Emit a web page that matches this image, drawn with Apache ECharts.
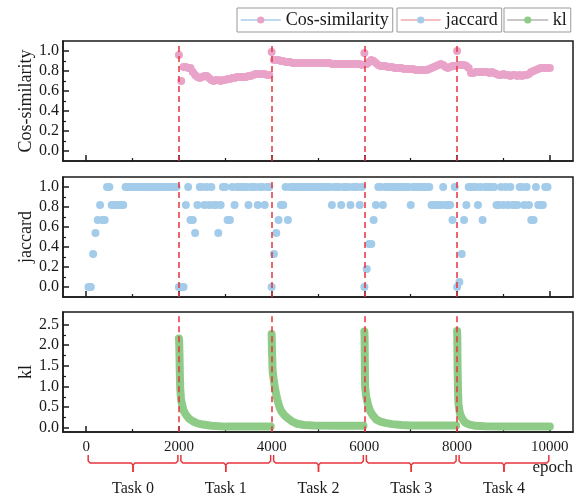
<!DOCTYPE html>
<html><head><meta charset="utf-8">
<script src="https://cdn.jsdelivr.net/npm/echarts@6/dist/echarts.min.js"></script>
<style>html,body{margin:0;padding:0;background:#fff}#c{width:585px;height:499px}</style>
</head><body><div id="c"></div>
<script>
// ---------------- data ----------------
const xTicks = [0, 2000, 4000, 6000, 8000, 10000];
const xMinorTicks = [1000, 3000, 5000, 7000, 9000];
const taskBounds = [0, 2000, 4000, 6000, 8000, 10000];
const taskNames = ['Task 0', 'Task 1', 'Task 2', 'Task 3', 'Task 4'];
const taskSwitches = [2000, 4000, 6000, 8000];

const yTicksUnit = [0, 0.2, 0.4, 0.6, 0.8, 1.0];
const yMinorUnit = [0.1, 0.3, 0.5, 0.7, 0.9];
const yTicksKl = [0, 0.5, 1.0, 1.5, 2.0, 2.5];
const yMinorKl = [0.25, 0.75, 1.25, 1.75, 2.25];

const evalStep = 50;

// Cos-similarity, sampled every 50 epochs, each task starting at its switch epoch
const cosStart = 2000;
const cosTask1 = [0.96,0.70,0.84,0.84,0.83,0.83,0.79,0.76,0.74,0.73,0.74,0.75,0.75,0.73,0.71,0.70,0.71,0.71,0.70,0.71,
                  0.71,0.72,0.72,0.73,0.73,0.74,0.74,0.74,0.74,0.74,0.75,0.75,0.76,0.77,0.77,0.77,0.77,0.77,0.76,0.76];
const cosTask2 = [0.99,0.91,0.91,0.91,0.90,0.90,0.89,0.89,0.89,0.88,0.88,0.88,0.88,0.88,0.88,0.88,0.88,0.88,0.88,0.88,
                  0.88,0.88,0.88,0.88,0.88,0.88,0.87,0.87,0.87,0.87,0.87,0.87,0.87,0.87,0.87,0.87,0.87,0.87,0.87,0.86];
const cosTask3 = [0.98,0.87,0.89,0.91,0.90,0.88,0.86,0.85,0.85,0.85,0.84,0.84,0.84,0.83,0.83,0.83,0.83,0.82,0.82,0.82,
                  0.82,0.82,0.81,0.81,0.81,0.81,0.81,0.81,0.82,0.83,0.84,0.85,0.86,0.87,0.86,0.84,0.83,0.84,0.85,0.85];
const cosTask4 = [1.00,0.86,0.86,0.86,0.85,0.83,0.78,0.78,0.79,0.79,0.79,0.79,0.79,0.79,0.78,0.79,0.78,0.77,0.76,0.76,
                  0.77,0.76,0.76,0.75,0.76,0.76,0.75,0.76,0.75,0.76,0.76,0.77,0.79,0.80,0.81,0.82,0.83,0.83,0.83,0.83,0.83];

// jaccard, sampled every 50 epochs starting at epoch 50
const jacStart = 50;
const jacTask0 = [0,0,0.33,0.54,0.67,0.82,0.67,0.67,1,1,0.82,0.82,0.82,0.82,0.82,0.82,
                  1,1,1,1,1,1,1,1,1,1,1,1,1,1,1,1,1,1,1,1,1,1,1];
const jacTask1 = [0,0,0,0.82,1,0.67,0.67,0.54,0.82,1,1,0.82,1,0.82,1,0.82,0.82,0.54,0.82,1,
                  1,0.67,0.67,1,0.82,1,1,1,1,1,0.82,1,1,1,0.82,1,1,0.82,1,1];
const jacTask2 = [0,0.33,0.54,0.67,0.82,0.82,1,0.67,
                  1,1,1,1,1,1,1,1,1,1,1,1,1,1,1,1,1,1,
                  0.82,1,1,1,0.82,1,1,1,0.82,1,1,1,0.82,1];
const jacTask3 = [0,0.18,0.43,0.43,0.67,0.82,1,1,0.82,
                  1,1,1,1,1,1,1,1,1,1,1,
                  0.82,
                  1,1,1,1,1,1,1,1,
                  0.82,0.82,0.82,0.82,0.82,1,0.82,0.82,0.82,0.67,1];
const jacTask4 = [0,0.05,0.33,0.67,0.82,1,1,1,1,0.82,
                  1,0.67,1,1,1,1,1,0.82,0.82,1,
                  0.82,1,0.82,1,0.82,0.82,0.82,1,1,0.82,
                  1,0.82,0.67,0.67,1,0.82,0.82,0.82,1,1];

// kl: [epoch, value] read along the curve of each task
const klTask1 = [[2000,2.16],[2005,2.10],[2012,1.80],[2020,1.30],[2028,0.95],[2045,0.70],[2070,0.55],[2100,0.42],
                 [2150,0.32],[2220,0.22],[2300,0.16],[2400,0.11],[2520,0.08],[2700,0.05],[3000,0.03],[3500,0.03],[3980,0.03]];
const klTask2 = [[4000,2.27],[4005,2.00],[4012,1.70],[4020,1.40],[4040,1.20],[4070,0.97],[4100,0.80],[4130,0.65],
                 [4170,0.50],[4210,0.40],[4280,0.30],[4350,0.23],[4450,0.15],[4550,0.10],[4700,0.07],[4900,0.06],[5500,0.05],[5980,0.05]];
const klTask3 = [[6000,2.33],[6005,2.20],[6010,1.60],[6015,1.00],[6040,0.75],[6080,0.56],[6120,0.42],[6170,0.32],
                 [6260,0.20],[6350,0.15],[6450,0.12],[6600,0.09],[6800,0.07],[7000,0.06],[7500,0.06],[7980,0.06]];
const klTask4 = [[8000,2.34],[8005,2.20],[8010,1.50],[8020,0.90],[8030,0.56],[8060,0.35],[8100,0.24],[8170,0.13],
                 [8270,0.08],[8400,0.05],[8600,0.04],[9000,0.03],[9500,0.03],[10000,0.03]];

// ---------------- build ----------------
function seq(start, values) { return values.map((v, i) => [start + i * evalStep, v]); }
const cosData = seq(cosStart, [].concat(cosTask1, cosTask2, cosTask3, cosTask4));
const jacData = seq(jacStart, [].concat(jacTask0, jacTask1, jacTask2, jacTask3, jacTask4));
const klParts = [klTask1, klTask2, klTask3, klTask4];
const klData = [];
klParts.forEach((p, i) => { if (i > 0) klData.push([p[0][0] - 5, null]); p.forEach(d => klData.push(d)); });

const FONT = "'Liberation Serif','Times New Roman',serif";
const INK = '#1a1a1a';
const PINK = '#e9a3c9', BLUE = '#a3cbea', GREEN = '#8dcb86', RED = '#e8343c';

const grids = [
  {left: 63, top: 41, width: 510, height: 120},
  {left: 63, top: 177, width: 510, height: 120},
  {left: 63, top: 312, width: 510, height: 120}
].map(g => Object.assign({show: true, borderColor: INK, borderWidth: 1.5, backgroundColor: 'transparent'}, g));

const yRanges = [[-0.1, 1.1], [-0.1, 1.1], [-0.1, 2.8]];
const yMajor = [yTicksUnit, yTicksUnit, yTicksKl];
const yMinor = [yMinorUnit, yMinorUnit, yMinorKl];
const yNames = ['Cos-similarity', 'jaccard', 'kl'];

const xAxis = [], yAxis = [];
for (let i = 0; i < 3; i++) {
  xAxis.push({
    type: 'value', gridIndex: i, position: 'bottom', min: -500, max: 10500,
    axisLine: {show: true, onZero: false, lineStyle: {color: INK, width: 1.5}},
    axisTick: {show: true, inside: true, length: 6, customValues: xTicks, lineStyle: {color: INK, width: 1.5}},
    axisLabel: {show: i === 2, customValues: xTicks, formatter: v => String(v), fontSize: 15, fontFamily: FONT, color: INK, margin: 8},
    splitLine: {show: false}
  });
  xAxis.push({
    type: 'value', gridIndex: i, position: 'bottom', min: -500, max: 10500,
    axisLine: {show: false, onZero: false},
    axisTick: {show: true, inside: true, length: 3, customValues: xMinorTicks, lineStyle: {color: INK, width: 1.2}},
    axisLabel: {show: false}, splitLine: {show: false}
  });
  yAxis.push({
    type: 'value', gridIndex: i, position: 'left', min: yRanges[i][0], max: yRanges[i][1],
    name: yNames[i], nameLocation: 'middle', nameGap: 28, nameMoveOverlap: false,
    nameTextStyle: {fontSize: 18, fontFamily: FONT, color: INK},
    axisLine: {show: true, onZero: false, lineStyle: {color: INK, width: 1.5}},
    axisTick: {show: true, inside: true, length: 6, customValues: yMajor[i], lineStyle: {color: INK, width: 1.5}},
    axisLabel: {show: true, customValues: yMajor[i], formatter: v => v.toFixed(1), fontSize: 16, fontFamily: FONT, color: INK, margin: 4},
    splitLine: {show: false}
  });
  yAxis.push({
    type: 'value', gridIndex: i, position: 'left', min: yRanges[i][0], max: yRanges[i][1],
    axisLine: {show: false, onZero: false},
    axisTick: {show: true, inside: true, length: 3, customValues: yMinor[i], lineStyle: {color: INK, width: 1.2}},
    axisLabel: {show: false}, splitLine: {show: false}
  });
}

function switchLines(top, bottom) {
  return {
    silent: true, symbol: ['none', 'none'], z: 10, animation: false,
    label: {show: false},
    lineStyle: {color: RED, type: [6, 4], width: 1.5, opacity: 1},
    emphasis: {disabled: true},
    data: taskSwitches.map(b => [{coord: [b, top]}, {coord: [b, bottom]}])
  };
}

const legendCommon = {
  orient: 'horizontal', itemWidth: 40, itemHeight: 9, itemGap: 5, padding: [3, 4, 3, 3],
  borderColor: '#9a9a9a', borderWidth: 1, borderRadius: 0, selectedMode: false,
  textStyle: {fontSize: 18, fontFamily: FONT, color: INK}
};

const option = {
  animation: false,
  backgroundColor: '#fff',
  grid: grids,
  xAxis: xAxis,
  yAxis: yAxis,
  legend: [
    Object.assign({left: 237, top: 8, data: [{name: 'Cos-similarity', itemStyle: {color: PINK, borderWidth: 0}, lineStyle: {color: '#a9cdeb', width: 1.5, opacity: 1}}]}, legendCommon),
    Object.assign({left: 397, top: 8, data: [{name: 'jaccard', itemStyle: {color: BLUE, borderWidth: 0}, lineStyle: {color: '#f2a9ae', width: 1.5, opacity: 1}}]}, legendCommon),
    Object.assign({left: 504, top: 8, data: [{name: 'kl', itemStyle: {color: GREEN, borderWidth: 0}, lineStyle: {color: '#b5b5b5', width: 1.5, opacity: 1}}]}, legendCommon)
  ],
  series: [
    {
      type: 'line', name: 'Cos-similarity', xAxisIndex: 0, yAxisIndex: 0, data: cosData,
      symbol: 'circle', symbolSize: 8, showSymbol: true,
      lineStyle: {width: 0, opacity: 0}, itemStyle: {color: PINK, borderWidth: 0},
      markLine: switchLines(1.05, -0.1)
    },
    {
      type: 'line', name: 'jaccard', xAxisIndex: 2, yAxisIndex: 2, data: jacData,
      symbol: 'circle', symbolSize: 8, showSymbol: true,
      lineStyle: {width: 0, opacity: 0}, itemStyle: {color: BLUE, borderWidth: 0},
      markLine: switchLines(1.05, -0.1)
    },
    {
      type: 'line', name: 'kl', xAxisIndex: 4, yAxisIndex: 4, data: klData,
      symbol: 'circle', symbolSize: 8, showSymbol: false, connectNulls: false,
      lineStyle: {width: 8, color: GREEN, cap: 'round', join: 'round'}, itemStyle: {color: GREEN, borderWidth: 0},
      markLine: switchLines(2.7, -0.1)
    }
  ]
};

const chart = echarts.init(document.getElementById('c'), null, {renderer: 'canvas'});
chart.setOption(option);

// task brackets under the bottom axis, positioned through the x scale
const px = v => chart.convertToPixel({xAxisIndex: 4}, v);
const graphic = [];
const yTop = 455, yBar = 463, yTip = 472, yText = 489;
for (let i = 0; i < taskNames.length; i++) {
  const a = px(taskBounds[i]) + 2, b = px(taskBounds[i + 1]) - 1, m = (a + b) / 2;
  const stroke = {stroke: RED, lineWidth: 1.5, fill: null};
  graphic.push({type: 'polyline', silent: true, shape: {points: [[a, yTop], [a, yBar - 2], [a + 2, yBar], [m - 2, yBar], [m, yBar + 2], [m, yTip]]}, style: stroke});
  graphic.push({type: 'polyline', silent: true, shape: {points: [[m, yTip], [m, yBar + 2], [m + 2, yBar], [b - 2, yBar], [b, yBar - 2], [b, yTop]]}, style: stroke});
  graphic.push({type: 'text', silent: true, x: m, y: yText, style: {text: taskNames[i], fontSize: 16, fontFamily: FONT, fill: INK, align: 'center', verticalAlign: 'middle'}});
}
graphic.push({type: 'text', silent: true, x: px(10000) + 3, y: 468, style: {text: 'epoch', fontSize: 17, fontFamily: FONT, fill: INK, align: 'center', verticalAlign: 'middle'}});
chart.setOption({graphic: graphic});
</script></body></html>
